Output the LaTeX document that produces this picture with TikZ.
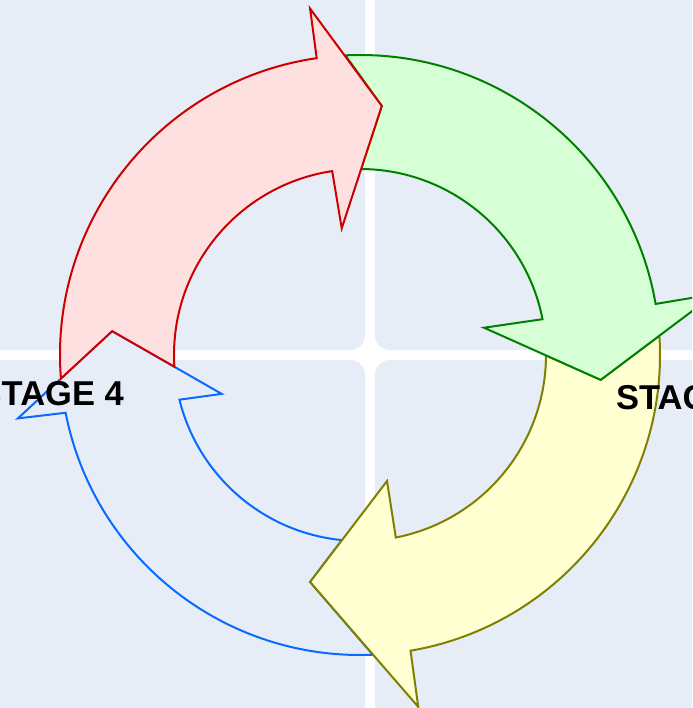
\documentclass[tikz,border=0pt]{standalone}
\usepackage{fontspec}
\setmainfont{Liberation Sans}
\definecolor{panel}{HTML}{E7EDF7}
\definecolor{redline}{HTML}{CC0000}
\definecolor{redfill}{HTML}{FFE0E0}
\definecolor{greenline}{HTML}{008000}
\definecolor{greenfill}{HTML}{D6FFD6}
\definecolor{yellowline}{HTML}{808000}
\definecolor{yellowfill}{HTML}{FFFFD2}
\definecolor{blueline}{HTML}{0A6AFF}
\begin{document}
\begin{tikzpicture}[x=1pt,y=1pt,
  arrowshape/.style={line width=2pt, line join=miter},
  stageone/.style={arrowshape, draw=redline, fill=redfill},
  stagetwo/.style={arrowshape, draw=greenline, fill=greenfill},
  stagethree/.style={arrowshape, draw=yellowline, fill=yellowfill},
  stagefour/.style={arrowshape, draw=blueline, fill=panel},
  panelbox/.style={fill=panel, rounded corners=15pt},
  lbl/.style={font=\bfseries\fontsize{34.5}{41}\selectfont, inner sep=0pt, text=black}]
\useasboundingbox (-360,-353) rectangle (332,355);
\clip (-360,-353) rectangle (332,355);
\fill[white] (-360,-353) rectangle (332,355);
% background panels
\path[panelbox] (-420,5) rectangle (5,420);
\path[panelbox] (15,5) rectangle (420,420);
\path[panelbox] (-420,-420) rectangle (5,-5);
\path[panelbox] (15,-420) rectangle (420,-5);
% stage 4 (blue)
\path[stagefour] (272.45:300) arc[start angle=272.45, end angle=191.1, radius=300]
  -- (190.5:348) -- (174.5:249) -- (195.7:143.7) -- (193.9:186)
  arc[start angle=193.9, end angle=264.4, radius=186] -- (257.6:232.4) -- cycle;
% stage 3 (yellow)
\path[stagethree] (3.67:300) arc[start angle=3.67, end angle=-80.3, radius=300]
  -- (-80.6:356.7) -- (-102.4:232.4) -- (-77.9:128.9) -- (-78.9:186)
  arc[start angle=-78.9, end angle=-0.15, radius=186] -- (-5.9:242) -- cycle;
% stage 2 (green)
\path[stagetwo] (92.8:300) arc[start angle=92.8, end angle=9.8, radius=300]
  -- (9.75:360) -- (-5.9:242) -- (12.4:127) -- (11.1:186)
  arc[start angle=11.1, end angle=89.7, radius=186] -- (85:250) -- cycle;
% stage 1 (red)
\path[stageone] (184.5:300) arc[start angle=184.5, end angle=98.3, radius=300]
  -- (98.2:350) -- (85:250) -- (98.2:128) -- (98.6:186)
  arc[start angle=98.6, end angle=183.6, radius=186] -- (174.5:249) -- cycle;
% labels
\node[lbl, anchor=base east] (s4) at (-236,-51) {STAGE 4};
\node[lbl, anchor=base west] (s2) at (256,-54.3) {STAGE 2};
\end{tikzpicture}
\end{document}
